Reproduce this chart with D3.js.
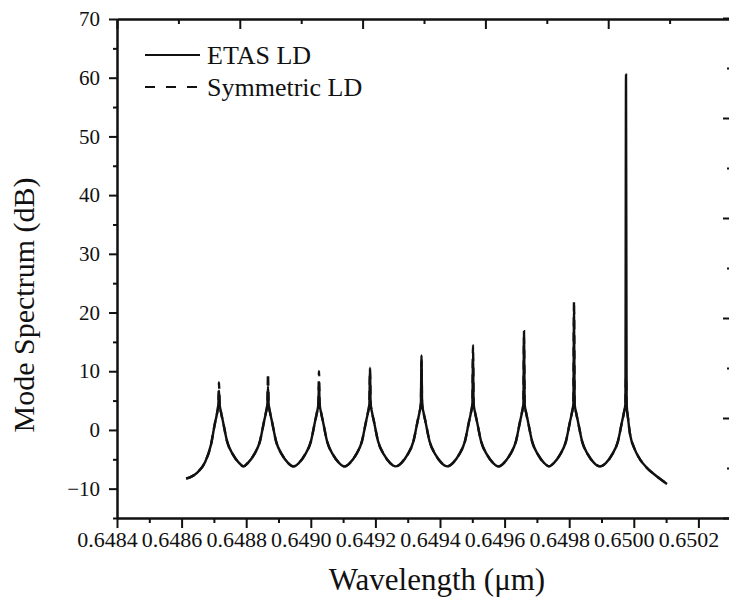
<!DOCTYPE html>
<html>
<head>
<meta charset="utf-8">
<script src="https://cdn.jsdelivr.net/npm/d3@7"></script>
<style>
    body { margin: 0; background: #fff; }
    .axis path, .axis line { stroke: #111; }
</style>
</head>
<body>
<div id="chart"></div>
<script>

// Wavelength samples (um)
const wavelength = [
    0.6486140, 0.6486477, 0.6486725, 0.6486910, 0.6487034, 0.6487096, 0.6487139, 0.6487158, 0.6487177, 0.6487220, 0.6487282, 0.6487406, 0.6487591, 0.6487777, 0.6487917,
    0.6488056, 0.6488242, 0.6488427, 0.6488551, 0.6488613, 0.6488656, 0.6488675, 0.6488694, 0.6488737, 0.6488799, 0.6488923, 0.6489108, 0.6489294, 0.6489465,
    0.6489635, 0.6489821, 0.6490006, 0.6490130, 0.6490192, 0.6490235, 0.6490254, 0.6490273, 0.6490316, 0.6490378, 0.6490502, 0.6490687, 0.6490873, 0.6491044,
    0.6491214, 0.6491400, 0.6491585, 0.6491709, 0.6491771, 0.6491814, 0.6491833, 0.6491852, 0.6491895, 0.6491957, 0.6492081, 0.6492266, 0.6492452, 0.6492630,
    0.6492808, 0.6492994, 0.6493179, 0.6493303, 0.6493365, 0.6493408, 0.6493427, 0.6493446, 0.6493489, 0.6493551, 0.6493675, 0.6493860, 0.6494046, 0.6494225,
    0.6494403, 0.6494589, 0.6494774, 0.6494898, 0.6494960, 0.6495003, 0.6495022, 0.6495041, 0.6495084, 0.6495146, 0.6495270, 0.6495455, 0.6495641, 0.6495812,
    0.6495982, 0.6496168, 0.6496353, 0.6496477, 0.6496539, 0.6496582, 0.6496601, 0.6496620, 0.6496663, 0.6496725, 0.6496849, 0.6497034, 0.6497220, 0.6497375,
    0.6497530, 0.6497716, 0.6497901, 0.6498025, 0.6498087, 0.6498130, 0.6498149, 0.6498168, 0.6498211, 0.6498273, 0.6498397, 0.6498582, 0.6498768, 0.6498954,
    0.6499140, 0.6499326, 0.6499511, 0.6499635, 0.6499697, 0.6499740, 0.6499759, 0.6499778, 0.6499821, 0.6499883, 0.6500007, 0.6500192, 0.6500378, 0.6500688, 0.6501028
];

// Mode spectrum (dB), ETAS LD
const etasDb = [
    -8.3, -7.3, -5.5, -2.5, 1.2, 2.8, 4.5, 6.7, 4.5, 3.0, 1.4, -1.9, -4.2, -5.6, -6.2,
    -5.6, -4.2, -1.9, 1.4, 3.0, 4.5, 7.4, 4.5, 3.0, 1.4, -1.9, -4.2, -5.6, -6.2,
    -5.6, -4.2, -1.9, 1.4, 3.0, 4.5, 8.0, 4.5, 3.0, 1.4, -1.9, -4.2, -5.6, -6.2,
    -5.6, -4.2, -1.9, 1.4, 3.0, 4.5, 10.6, 4.5, 3.0, 1.4, -1.9, -4.2, -5.6, -6.2,
    -5.6, -4.2, -1.9, 1.4, 3.0, 4.5, 12.7, 4.5, 3.0, 1.4, -1.9, -4.2, -5.6, -6.2,
    -5.6, -4.2, -1.9, 1.4, 3.0, 4.5, 12.3, 4.5, 3.0, 1.4, -1.9, -4.2, -5.6, -6.2,
    -5.6, -4.2, -1.9, 1.4, 3.0, 4.5, 16.8, 4.5, 3.0, 1.4, -1.9, -4.2, -5.6, -6.2,
    -5.6, -4.2, -1.9, 1.4, 3.0, 4.5, 19.8, 4.5, 3.0, 1.4, -1.9, -4.2, -5.6, -6.2,
    -5.6, -4.2, -1.9, 1.4, 3.0, 4.5, 60.5, 4.5, 2.0, -0.7, -3.0, -5.0, -6.3, -7.8, -9.2
];

// Mode spectrum (dB), symmetric LD (same flanks, different peak tips)
const symmetricDb = [
    -8.3, -7.3, -5.5, -2.5, 1.2, 2.8, 4.5, 8.1, 4.5, 3.0, 1.4, -1.9, -4.2, -5.6, -6.2,
    -5.6, -4.2, -1.9, 1.4, 3.0, 4.5, 9.6, 4.5, 3.0, 1.4, -1.9, -4.2, -5.6, -6.2,
    -5.6, -4.2, -1.9, 1.4, 3.0, 4.5, 10.0, 4.5, 3.0, 1.4, -1.9, -4.2, -5.6, -6.2,
    -5.6, -4.2, -1.9, 1.4, 3.0, 4.5, 10.2, 4.5, 3.0, 1.4, -1.9, -4.2, -5.6, -6.2,
    -5.6, -4.2, -1.9, 1.4, 3.0, 4.5, 11.8, 4.5, 3.0, 1.4, -1.9, -4.2, -5.6, -6.2,
    -5.6, -4.2, -1.9, 1.4, 3.0, 4.5, 14.4, 4.5, 3.0, 1.4, -1.9, -4.2, -5.6, -6.2,
    -5.6, -4.2, -1.9, 1.4, 3.0, 4.5, 15.8, 4.5, 3.0, 1.4, -1.9, -4.2, -5.6, -6.2,
    -5.6, -4.2, -1.9, 1.4, 3.0, 4.5, 22.0, 4.5, 3.0, 1.4, -1.9, -4.2, -5.6, -6.2,
    -5.6, -4.2, -1.9, 1.4, 3.0, 4.5, 9.0, 4.5, 2.0, -0.7, -3.0, -5.0, -6.3, -7.8, -9.2
];

const seriesNames = ["ETAS LD", "Symmetric LD"];

// Tick labels
const xTicks = [0.6484, 0.6486, 0.6488, 0.6490, 0.6492, 0.6494, 0.6496, 0.6498, 0.6500, 0.6502];
const xMinorTicks = [0.6485, 0.6487, 0.6489, 0.6491, 0.6493, 0.6495, 0.6497, 0.6499, 0.6501, 0.6503];
const yTicks = [-10, 0, 10, 20, 30, 40, 50, 60, 70];
const yMinorTicks = [-15, -5, 5, 15, 25, 35, 45, 55, 65];

// Second (unlabelled) layer axes, top and right
const topTicks = [0, 1, 2, 3, 4, 5];
const topMinorTicks = [0.5, 1.5, 2.5, 3.5, 4.5];
const rightTicks = [0, 1, 2, 3, 4, 5];
const rightMinorTicks = [0.5, 1.5, 2.5, 3.5, 4.5];

const serif = "'Liberation Serif', Tinos, 'Times New Roman', Times, 'DejaVu Serif', serif";


class SpectrumChart {

    constructor(_parentElement, _config) {
        this.parentElement = _parentElement;
        this.config = _config;

        this.initVis();
    }

    initVis() {
        let vis = this;

        vis.margin = {top: 19, left: 117};
        vis.height = 499;

        vis.svg = d3.select("#" + vis.parentElement).append("svg")
            .attr("width", 729)
            .attr("height", 598)
            .append("g")
            .attr("transform", "translate(" + vis.margin.left + "," + vis.margin.top + ")");

        // Scales (x continues past the cropped right edge)
        vis.x = d3.scaleLinear().domain([0.6484, 0.6504]).range([0, 646]);
        vis.y = d3.scaleLinear().domain([-15, 70]).range([vis.height, 0]);

        vis.xTop = d3.scaleLinear().domain([0, 5]).range([0, 614]);
        vis.yRight = d3.scaleLinear().domain([0, 5]).range([vis.height, -1]);

        vis.data = wavelength.map((w, i) => ({w: w, etas: etasDb[i], sym: symmetricDb[i]}));

        vis.drawAxes();
        vis.updateVis();

        // Serif everywhere (axes come with sans-serif by default)
        d3.selectAll("svg text")
            .attr("font-family", serif)
            .style("font-family", serif)
            .style("fill", "#111");
    }

    drawAxes() {
        let vis = this;

        // Bottom axis
        vis.svg.append("g")
            .attr("class", "axis")
            .attr("transform", "translate(0," + vis.height + ")")
            .call(d3.axisBottom(vis.x).tickValues(xMinorTicks).tickSize(5).tickSizeOuter(0).tickFormat(""));

        let xAxisG = vis.svg.append("g")
            .attr("class", "axis")
            .attr("transform", "translate(0," + vis.height + ")")
            .call(d3.axisBottom(vis.x).tickValues(xTicks).tickSize(10).tickSizeOuter(0).tickFormat(d3.format(".4f")));

        xAxisG.selectAll("text")
            .attr("y", 13)
            .attr("dx", -10)
            .style("font-size", "22px");

        // Left axis
        vis.svg.append("g")
            .attr("class", "axis")
            .call(d3.axisLeft(vis.y).tickValues(yMinorTicks).tickSize(4).tickSizeOuter(0).tickFormat(""));

        let yAxisG = vis.svg.append("g")
            .attr("class", "axis")
            .call(d3.axisLeft(vis.y).tickValues(yTicks).tickSize(8).tickSizeOuter(0));

        yAxisG.selectAll("text")
            .attr("x", -17)
            .style("font-size", "21px");

        // Top axis of the second layer, ticks pointing in
        vis.svg.append("g")
            .attr("class", "axis")
            .call(d3.axisBottom(vis.xTop).tickValues(topMinorTicks).tickSize(5).tickSizeOuter(0).tickFormat(""));

        vis.svg.append("g")
            .attr("class", "axis")
            .call(d3.axisBottom(vis.xTop).tickValues(topTicks).tickSize(10).tickSizeOuter(0).tickFormat(""));

        // Right axis of the second layer, cut by the picture edge
        vis.svg.append("g")
            .attr("class", "axis")
            .attr("transform", "translate(613,0)")
            .call(d3.axisLeft(vis.yRight).tickValues(rightMinorTicks).tickSize(3).tickSizeOuter(0).tickFormat(""));

        vis.svg.append("g")
            .attr("class", "axis")
            .attr("transform", "translate(613,0)")
            .call(d3.axisLeft(vis.yRight).tickValues(rightTicks).tickSize(7).tickSizeOuter(0).tickFormat(""));

        vis.svg.selectAll(".axis path").attr("stroke-width", 2);
        vis.svg.selectAll(".axis line").attr("stroke-width", 2);

        // Axis titles
        vis.svg.append("text")
            .attr("x", 437 - vis.margin.left)
            .attr("y", 590 - vis.margin.top)
            .attr("text-anchor", "middle")
            .style("font-size", "31px")
            .text("Wavelength (\u03bcm)");

        vis.svg.append("text")
            .attr("transform", "translate(" + (34 - vis.margin.left) + "," + (305 - vis.margin.top) + ") rotate(-90)")
            .attr("text-anchor", "middle")
            .style("font-size", "30px")
            .text("Mode Spectrum (dB)");
    }

    updateVis() {
        let vis = this;

        let line = key => d3.line()
            .x(d => vis.x(d.w))
            .y(d => vis.y(d[key]))
            .curve(d3.curveMonotoneX);

        // Symmetric LD (dashed) below, ETAS LD (solid) on top
        vis.svg.append("path")
            .datum(vis.data)
            .attr("fill", "none")
            .attr("stroke", "#111")
            .attr("stroke-width", 2.4)
            .attr("stroke-dasharray", "9,6")
            .attr("d", line("sym"));

        vis.svg.append("path")
            .datum(vis.data)
            .attr("fill", "none")
            .attr("stroke", "#111")
            .attr("stroke-width", 2.4)
            .attr("d", line("etas"));

        // Legend
        let legend = vis.svg.append("g")
            .attr("transform", "translate(" + (145 - vis.margin.left) + "," + (55 - vis.margin.top) + ")");

        seriesNames.forEach((name, i) => {
            legend.append("line")
                .attr("x1", 0)
                .attr("x2", i === 0 ? 55 : 52)
                .attr("y1", i * 32)
                .attr("y2", i * 32)
                .attr("stroke", "#111")
                .attr("stroke-width", 2.2)
                .attr("stroke-dasharray", i === 0 ? null : "10,11");

            legend.append("text")
                .attr("x", 62)
                .attr("y", i * 32)
                .attr("dy", "0.35em")
                .style("font-size", "26px")
                .text(name);
        });
    }
}

new SpectrumChart("chart", {});

</script>
</body>
</html>
